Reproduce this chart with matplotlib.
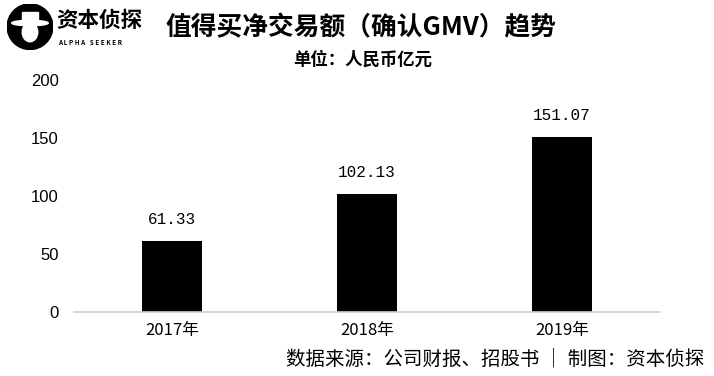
import matplotlib.pyplot as plt
from matplotlib.patches import Circle, Ellipse, Rectangle

plt.rcParams['font.family'] = ['Noto Sans CJK SC', 'DejaVu Sans']

years = ['2017年', '2018年', '2019年']
gmv = [61.33, 102.13, 151.07]
value_labels = ['61.33', '102.13', '151.07']
yticks = [0, 50, 100, 150, 200]

fig = plt.figure(figsize=(7.14, 3.76), dpi=100)
ax = fig.add_axes([0.104, 0.170, 0.82, 0.617])

x = range(len(years))
bars = ax.bar(x, gmv, width=0.31, color='black')
for b, lab in zip(bars, value_labels):
    ax.text(b.get_x() + b.get_width() / 2, b.get_height() + 12, lab,
            ha='center', va='bottom', fontsize=11.5,
            family=['Liberation Mono', 'DejaVu Sans Mono'])

ax.set_xlim(-0.5, 2.5)
ax.set_ylim(0, 200)
ax.set_yticks(yticks)
ax.set_xticks(list(x))
ax.set_xticklabels(years, fontsize=12)
ax.tick_params(axis='y', labelsize=12, length=0, pad=11)
ax.tick_params(axis='x', length=0, pad=7)
for lab in ax.get_yticklabels():
    lab.set_family(['Liberation Sans', 'DejaVu Sans'])
for s in ['top', 'right', 'left']:
    ax.spines[s].set_visible(False)
ax.spines['bottom'].set_color('#d0d0d0')
ax.spines['bottom'].set_linewidth(1.2)

# logo
logo = fig.add_axes([0.010, 0.868, 0.064, 0.122])
logo.add_patch(Circle((0.5, 0.5), 0.5, color='black'))
logo.add_patch(Ellipse((0.5, 0.38), 0.34, 0.42, color='white'))
logo.add_patch(Ellipse((0.5, 0.58), 0.8, 0.12, color='white'))
logo.add_patch(Rectangle((0.33, 0.62), 0.34, 0.2, color='white'))
logo.set_xlim(0, 1)
logo.set_ylim(0, 1)
logo.set_aspect('equal')
logo.axis('off')
fig.text(0.079, 0.945, '资本侦探', fontsize=15.5, fontweight='bold', va='center')
fig.text(0.081, 0.888, 'A L P H A   S E E K E R', fontsize=4.6, fontweight='bold', va='center')

fig.text(0.505, 0.925, '值得买净交易额（确认GMV）趋势', fontsize=18.5,
         fontweight='bold', ha='center', va='center')
fig.text(0.508, 0.84, '单位：人民币亿元', fontsize=12.5, fontweight='bold',
         ha='center', va='center')
fig.text(0.987, 0.045, '数据来源：公司财报、招股书 ｜ 制图：资本侦探', fontsize=14,
         ha='right', va='center')

fig.savefig('out.png', dpi=100)
